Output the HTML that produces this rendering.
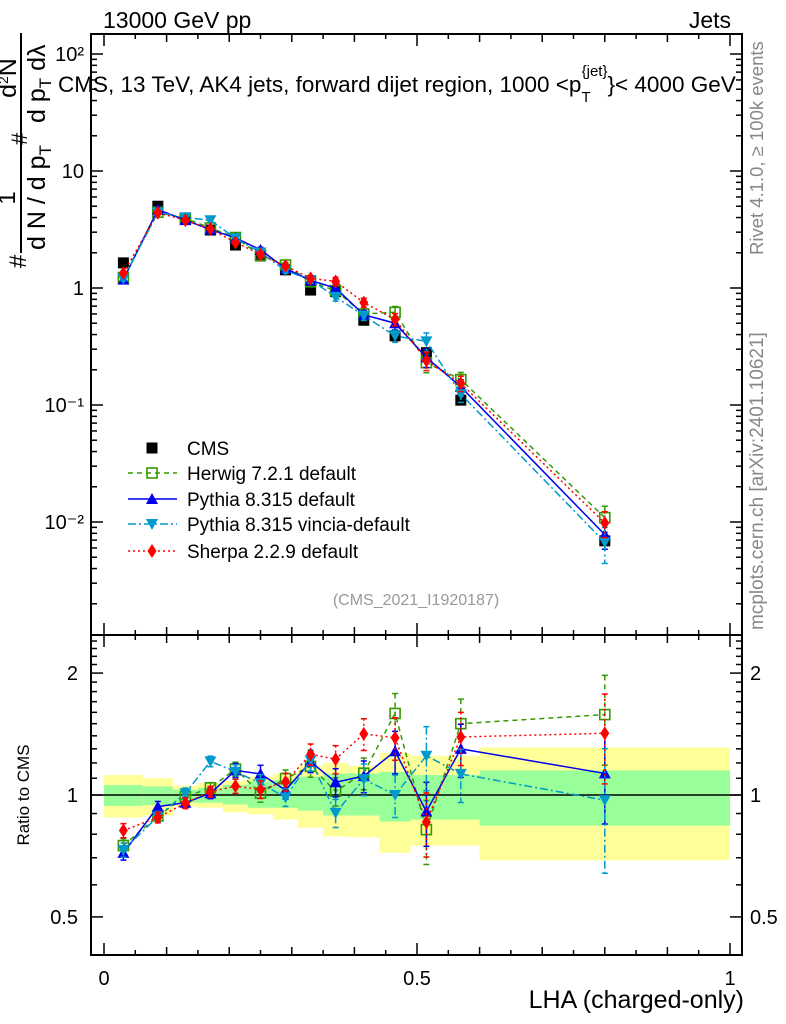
<!DOCTYPE html>
<html><head><meta charset="utf-8"><style>
html,body{margin:0;padding:0;background:#fff}
svg{display:block;font-family:"Liberation Sans",sans-serif}
</style></head><body>
<svg id="chart" width="786" height="1024" viewBox="0 0 786 1024" xmlns="http://www.w3.org/2000/svg">
<g id="bands"></g>
<g id="frame"></g>
<g id="series"></g>
<text x="103" y="28" font-size="23">13000 GeV pp</text>
<text x="731" y="28" font-size="23" text-anchor="end">Jets</text>
<text x="58" y="92" font-size="22.5">CMS, 13 TeV, AK4 jets, forward dijet region, 1000 &lt;p<tspan font-size="15" dy="10">T</tspan><tspan font-size="15" dx="-9" dy="-26">{jet}</tspan><tspan dy="16">}&lt; 4000 GeV</tspan></text>
<text transform="translate(763,255) rotate(-90)" font-size="18.5" fill="#888">Rivet 4.1.0, ≥ 100k events</text>
<text transform="translate(763,630) rotate(-90)" font-size="19" fill="#888">mcplots.cern.ch [arXiv:2401.10621]</text>
<text x="416" y="605" font-size="16" fill="#999" text-anchor="middle">(CMS_2021_I1920187)</text>
<g>
<line x1="21" y1="33" x2="21" y2="253" stroke="#000" stroke-width="2"/>
<text transform="translate(26,268) rotate(-90)" font-size="24">#</text>
<text transform="translate(15,198) rotate(-90)" font-size="24" text-anchor="middle">1</text>
<text transform="translate(45,250) rotate(-90)" font-size="25">d N / d p<tspan font-size="17" dy="6">T</tspan></text>
<text transform="translate(27,145) rotate(-90)" font-size="22">#</text>
<text transform="translate(16,78) rotate(-90)" font-size="25" text-anchor="middle">d<tspan font-size="14" dy="-8">2</tspan><tspan dy="8">N</tspan></text>
<text transform="translate(45,123) rotate(-90)" font-size="25">d p<tspan font-size="17" dy="6">T</tspan><tspan dy="-6"> dλ</tspan></text>
</g>
<text x="29" y="795" font-size="17" transform="rotate(-90,29,795)" text-anchor="middle">Ratio to CMS</text>
<text x="744" y="1008" font-size="25" text-anchor="end">LHA (charged-only)</text>
<g id="legend"></g>
</svg>
<script>
const edges = [0,0.062,0.11,0.15,0.19,0.23,0.27,0.31,0.35,0.39,0.44,0.49,0.54,0.6,1.0];
const cms = [1.64,5.0,3.97,3.13,2.33,1.88,1.43,0.96,0.93,0.53,0.39,0.28,0.11,0.0069];
const herwig = [1.23,4.44,3.93,3.26,2.70,1.90,1.57,1.13,0.95,0.60,0.62,0.23,0.165,0.0109];
const pythia = [1.18,4.68,3.80,3.16,2.68,2.12,1.47,1.16,1.00,0.59,0.50,0.255,0.143,0.0078];
const vincia = [1.20,4.42,4.01,3.79,2.66,2.01,1.41,1.17,0.84,0.58,0.39,0.35,0.124,0.0067];
const sherpa = [1.34,4.40,3.79,3.19,2.45,1.94,1.54,1.21,1.14,0.75,0.54,0.24,0.153,0.0098];
const mcErr = [0.04,0.03,0.03,0.03,0.04,0.05,0.05,0.06,0.08,0.09,0.12,0.18,0.15,0.25];
const vinciaErr = [0.04,0.03,0.03,0.03,0.04,0.05,0.05,0.06,0.08,0.09,0.12,0.18,0.15,0.34];
const yelUp = [1.12,1.10,1.054,1.07,1.085,1.11,1.13,1.18,1.20,1.18,1.27,1.25,1.25,1.31];
const yelLo = [0.88,0.89,0.936,0.93,0.906,0.896,0.87,0.83,0.79,0.786,0.72,0.75,0.75,0.69];
const grnUp = [1.058,1.05,1.03,1.04,1.058,1.08,1.09,1.11,1.13,1.13,1.14,1.12,1.12,1.15];
const grnLo = [0.94,0.945,0.957,0.957,0.948,0.93,0.93,0.915,0.89,0.89,0.86,0.87,0.87,0.84];
const xTickLabels = ["0","0.5","1"];
const mainTickLabels = ["10²","10","1","10⁻¹","10⁻²"];
const ratioTickLabels = ["2","1","0.5"];

const NS="http://www.w3.org/2000/svg";
const L=91,R=742,T=34,MB=635,RB=955;
const X=v=>104+626*v;
const YM=v=>288-117*Math.log10(v);
const YR=v=>795-405*Math.log10(v);
function mk(tag,attrs,parent){const e=document.createElementNS(NS,tag);for(const k in attrs)e.setAttribute(k,attrs[k]);parent.appendChild(e);return e;}
const bands=document.getElementById('bands'),frame=document.getElementById('frame'),ser=document.getElementById('series'),leg=document.getElementById('legend');
const centers=cms.map((_,i)=>(edges[i]+edges[i+1])/2);

for(let i=0;i<cms.length;i++){
  const x0=X(edges[i]),x1=X(edges[i+1]);
  const y=mk('rect',{x:x0,y:YR(yelUp[i]),width:x1-x0,height:YR(yelLo[i])-YR(yelUp[i]),fill:'#ffff99'},bands);
  
  
  const g=mk('rect',{x:x0,y:YR(grnUp[i]),width:x1-x0,height:YR(grnLo[i])-YR(grnUp[i]),fill:'#99ff99'},bands);
  
  
}
const one=mk('line',{x1:L,x2:R,y1:YR(1),y2:YR(1),stroke:'#000','stroke-width':1.5},bands);



[[T,MB],[MB,RB]].forEach(([a,b],k)=>{
  const r=mk('rect',{x:L,y:a,width:R-L,height:b-a,fill:'none',stroke:'#000','stroke-width':2},frame);
  
  
});
for(let j=0;j<=20;j++){
  const v=j/20,x=X(v);
  const len=(j%10==0)?12:(j%2==0?8:5);
  [[T,1],[MB,-1],[MB,1],[RB,-1]].forEach(([y0,d])=>mk('line',{x1:x,x2:x,y1:y0,y2:y0+d*len,stroke:'#000','stroke-width':1.5},frame));
}
xTickLabels.forEach((s,i)=>{
  const t=mk('text',{x:X(i*0.5),y:985,'font-size':20,'text-anchor':'middle'},frame);t.textContent=s;
  
  
});
for(let e=-3;e<=2;e++){for(let m=1;m<=9;m++){
  const v=m*Math.pow(10,e),y=YM(v); if(y<T||y>MB)continue;
  const len=m==1?12:6;
  mk('line',{x1:L,x2:L+len,y1:y,y2:y,stroke:'#000','stroke-width':1.5},frame);
  mk('line',{x1:R,x2:R-len,y1:y,y2:y,stroke:'#000','stroke-width':1.5},frame);
}}
mainTickLabels.forEach((s,i)=>{
  const t=mk('text',{x:84,y:YM(Math.pow(10,2-i))+7,'font-size':20,'text-anchor':'end'},frame);t.textContent=s;
  
  
});
for(let k=5;k<=24;k++){
  const v=k/10,y=YR(v);const len=(k==5||k==10||k==20)?12:6;
  mk('line',{x1:L,x2:L+len,y1:y,y2:y,stroke:'#000','stroke-width':1.5},frame);
  mk('line',{x1:R,x2:R-len,y1:y,y2:y,stroke:'#000','stroke-width':1.5},frame);
}
[2,1,0.5].forEach((v,i)=>{
  const t=mk('text',{x:78,y:YR(v)+7,'font-size':20,'text-anchor':'end'},frame);t.textContent=ratioTickLabels[i];
  
  
  const t2=mk('text',{x:750,y:YR(v)+7,'font-size':20},frame);t2.textContent=ratioTickLabels[i];
  
  
});

function marker(kind,x,y,color,parent){
  if(kind=='sq')return mk('rect',{x:x-5.5,y:y-5.5,width:11,height:11,fill:color},parent);
  if(kind=='osq')return mk('rect',{x:x-5,y:y-5,width:10,height:10,fill:'none',stroke:color,'stroke-width':1.6},parent);
  if(kind=='up')return mk('polygon',{points:`${x},${y-6} ${x-6},${y+5} ${x+6},${y+5}`,fill:color},parent);
  if(kind=='dn')return mk('polygon',{points:`${x},${y+6} ${x-6},${y-5} ${x+6},${y-5}`,fill:color},parent);
  if(kind=='dia')return mk('polygon',{points:`${x},${y-7} ${x-4.5},${y} ${x},${y+7} ${x+4.5},${y}`,fill:color},parent);
}
const specs=[
 {name:'herwig',vals:herwig,err:mcErr,color:'#339900',dash:'5,4',m:'osq',label:'Herwig 7.2.1 default'},
 {name:'pythia',vals:pythia,err:mcErr,color:'#0000ee',dash:'',m:'up',label:'Pythia 8.315 default'},
 {name:'vincia',vals:vincia,err:vinciaErr,color:'#0099cc',dash:'8,3,2,3',m:'dn',label:'Pythia 8.315 vincia-default'},
 {name:'sherpa',vals:sherpa,err:mcErr,color:'#ff0000',dash:'2,3',m:'dia',label:'Sherpa 2.2.9 default'}
];
const cg=mk('g',{},ser);


cms.forEach((v,i)=>{const p=marker('sq',X(centers[i]),YM(v),'#000',cg);
  
  });
specs.forEach(s=>{
  ['main','ratio'].forEach(panel=>{
    const g=mk('g',{},ser);
    
    
    const Yf=panel=='main'?YM:YR;
    const vals=s.vals.map((v,i)=>panel=='main'?v:v/cms[i]);
    const pts=vals.map((v,i)=>X(centers[i])+','+Yf(v)).join(' ');
    const pl=mk('polyline',{points:pts,fill:'none',stroke:s.color,'stroke-width':1.5,'stroke-dasharray':s.dash},g);
    
    
    vals.forEach((v,i)=>{
      const x=X(centers[i]);
      const y1=Yf(v*(1+s.err[i])),y2=Yf(v*Math.max(0.05,1-s.err[i]));
      mk('line',{x1:x,x2:x,y1:y1,y2:y2,stroke:s.color,'stroke-width':1.5,'stroke-dasharray':s.dash},g);
      mk('line',{x1:x-3,x2:x+3,y1:y1,y2:y1,stroke:s.color,'stroke-width':1.5},g);
      mk('line',{x1:x-3,x2:x+3,y1:y2,y2:y2,stroke:s.color,'stroke-width':1.5},g);
      const p=marker(s.m,x,Yf(v),s.color,g);
      
      
    });
  });
});
const ly=[448,473,499,524,551];
const le0=mk('g',{},leg);


marker('sq',152,ly[0],'#000',le0);
const t0=mk('text',{x:187,y:ly[0]+7,'font-size':19},le0);t0.textContent='CMS';
specs.forEach((s,i)=>{
  const g=mk('g',{},leg);
  
  
  const y=ly[i+1];
  mk('line',{x1:128,x2:177,y1:y,y2:y,stroke:s.color,'stroke-width':1.5,'stroke-dasharray':s.dash},g);
  marker(s.m,152,y,s.color,g);
  const t=mk('text',{x:187,y:y+7,'font-size':19},g);t.textContent=s.label;
});
</script>
</body></html>
